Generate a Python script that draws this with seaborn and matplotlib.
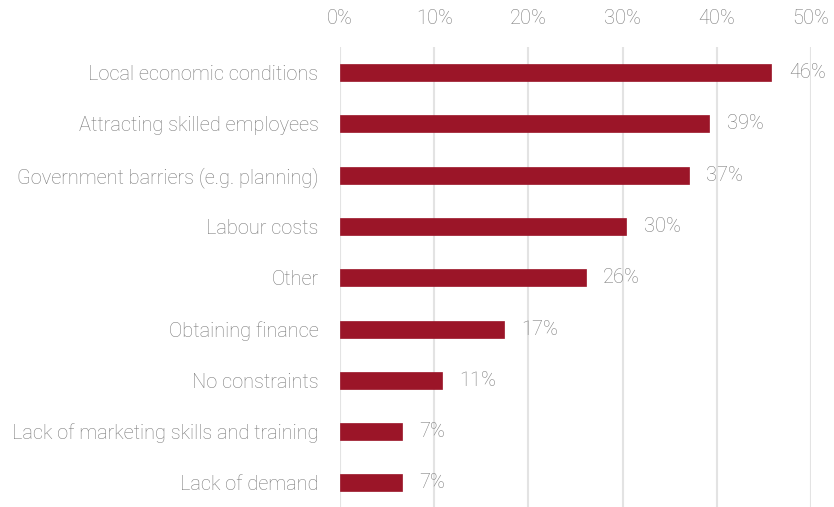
import matplotlib
matplotlib.use("Agg")
import matplotlib.pyplot as plt
import seaborn as sns
import pandas as pd

categories = [
    "Local economic conditions",
    "Attracting skilled employees",
    "Government barriers (e.g. planning)",
    "Labour costs",
    "Other",
    "Obtaining finance",
    "No constraints",
    "Lack of marketing skills and training",
    "Lack of demand",
]
shares = [45.8, 39.2, 37.0, 30.4, 26.1, 17.4, 10.8, 6.6, 6.6]
x_ticks = [0, 10, 20, 30, 40, 50]

BAR = "#9b1528"
TEXT = "#7a7a7a"
GRID = "#e3e3e3"
FS = 14.4

sns.set_theme(style="white")
plt.rcParams["font.family"] = ["Roboto", "DejaVu Sans"]
plt.rcParams["font.weight"] = "light"

df = pd.DataFrame({"category": categories, "share": shares})

fig = plt.figure(figsize=(8.34, 5.07), dpi=100)
ax = fig.add_axes([340 / 834, 0, (811 - 340) / 834, (507 - 47) / 507])

sns.barplot(data=df, x="share", y="category", color=BAR, width=0.33,
            saturation=1, ax=ax, zorder=3, edgecolor=BAR, linewidth=0.5)

ax.set_xlim(0, 50)
ax.set_ylim(8.47, -0.5)
ax.set_xticks(x_ticks)
ax.set_xticklabels([f"{t}%" for t in x_ticks], fontsize=FS, color=TEXT,
                   fontweight="light")
ax.xaxis.tick_top()
ax.tick_params(axis="x", length=0, pad=14)
ax.tick_params(axis="y", length=0, pad=15.5, labelsize=FS, labelcolor=TEXT)
for lbl in ax.get_yticklabels():
    lbl.set_fontweight("light")
ax.grid(axis="x", color=GRID, linewidth=1.5, zorder=0)
ax.set_xlabel("")
ax.set_ylabel("")
for s in ax.spines.values():
    s.set_visible(False)

for i, v in enumerate(shares):
    ax.annotate(f"{v:.0f}%", xy=(v, i), xytext=(12.5, 0), textcoords="offset points",
                va="center", ha="left", fontsize=FS, color=TEXT, fontweight="light")

fig.savefig("out.png", dpi=100)
